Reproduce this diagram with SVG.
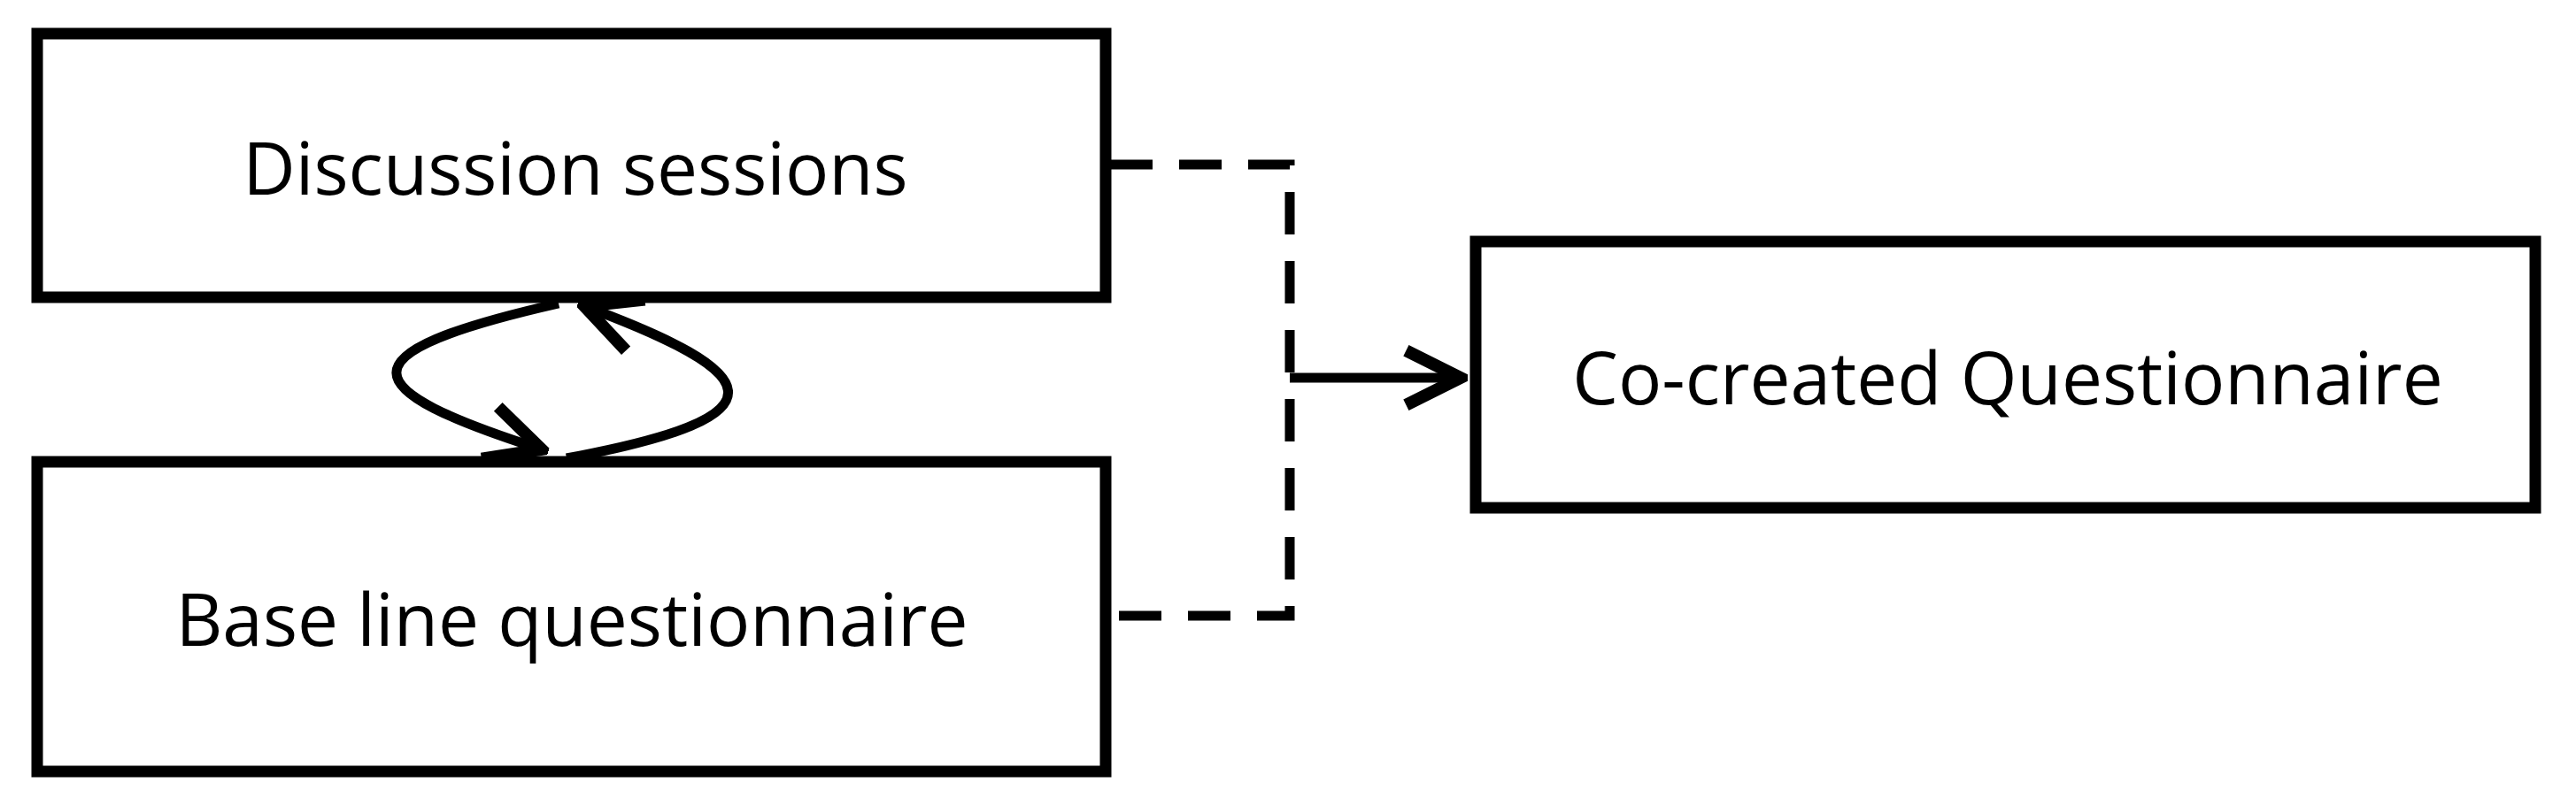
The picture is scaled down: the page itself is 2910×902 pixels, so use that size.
<svg xmlns="http://www.w3.org/2000/svg" width="2910" height="902" viewBox="0 0 2910 902">
<style>
.box{fill:#fff;stroke:#000;stroke-width:13}
.t{font-family:"Open Sans","Liberation Sans",sans-serif;font-size:82px;text-anchor:middle;fill:#000}
.c{fill:none;stroke:#000;stroke-width:11}
</style>
<defs><marker id="b" viewBox="0 0 10 10" refX="9" refY="5" markerWidth="7" markerHeight="7" orient="auto"><path d="M1,1 L9,5 L1,9" fill="none" stroke="#000" stroke-width="1.8"/></marker></defs>
<g id="n1"><rect class="box" x="42" y="38" width="1207" height="298"/><text class="t" x="650" y="220">Discussion sessions</text></g>
<g id="n2"><rect class="box" x="42" y="522" width="1207" height="350"/><text class="t" x="646" y="730">Base line questionnaire</text></g>
<g id="n3"><rect class="box" x="1667" y="273" width="1197" height="301"/><text class="t" x="2268" y="457">Co-created Questionnaire</text></g>
<g id="connectors">
<path class="c" d="M1254 186 H1457 V696 H1254" stroke-dasharray="48,30"/>
<path class="c" d="M1457 427 H1650" marker-end="url(#b)"/>
<path class="c" d="M631 343 C380 400 400 440 612 508" marker-end="url(#b)"/>
<path class="c" d="M640 518 C900 470 860 420 660 346" marker-end="url(#b)"/>
</g>
</svg>
